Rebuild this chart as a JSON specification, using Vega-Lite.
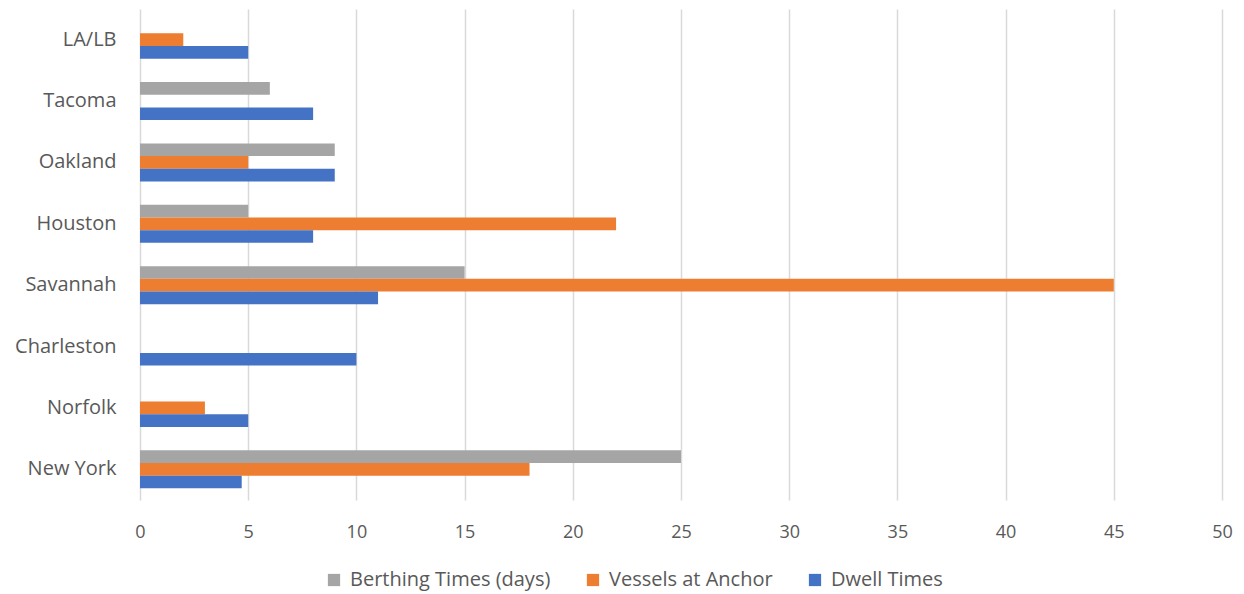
{
  "$schema": "https://vega.github.io/schema/vega-lite/v6.json",
  "width": 1082,
  "height": 491,
  "autosize": {"type": "none"},
  "padding": {"left": 140, "top": 9, "right": 22, "bottom": 94},
  "background": "white",
  "config": {"view": {"stroke": null}, "font": "Open Sans"},
  "data": {
    "values": [
      {"port": "LA/LB", "series": "Vessels at Anchor", "value": 2},
      {"port": "LA/LB", "series": "Dwell Times", "value": 5},
      {"port": "Tacoma", "series": "Berthing Times (days)", "value": 6},
      {"port": "Tacoma", "series": "Dwell Times", "value": 8},
      {"port": "Oakland", "series": "Berthing Times (days)", "value": 9},
      {"port": "Oakland", "series": "Vessels at Anchor", "value": 5},
      {"port": "Oakland", "series": "Dwell Times", "value": 9},
      {"port": "Houston", "series": "Berthing Times (days)", "value": 5},
      {"port": "Houston", "series": "Vessels at Anchor", "value": 22},
      {"port": "Houston", "series": "Dwell Times", "value": 8},
      {"port": "Savannah", "series": "Berthing Times (days)", "value": 15},
      {"port": "Savannah", "series": "Vessels at Anchor", "value": 45},
      {"port": "Savannah", "series": "Dwell Times", "value": 11},
      {"port": "Charleston", "series": "Dwell Times", "value": 10},
      {"port": "Norfolk", "series": "Vessels at Anchor", "value": 3},
      {"port": "Norfolk", "series": "Dwell Times", "value": 5},
      {"port": "New York", "series": "Berthing Times (days)", "value": 25},
      {"port": "New York", "series": "Vessels at Anchor", "value": 18},
      {"port": "New York", "series": "Dwell Times", "value": 4.7}
    ]
  },
  "mark": {"type": "bar"},
  "encoding": {
    "y": {
      "field": "port",
      "type": "nominal",
      "sort": ["LA/LB", "Tacoma", "Oakland", "Houston", "Savannah", "Charleston", "Norfolk", "New York"],
      "scale": {"paddingInner": 0.38, "paddingOuter": 0.19},
      "axis": {
        "title": null,
        "domain": false,
        "ticks": false,
        "labelPadding": 24,
        "labelFontSize": 20,
        "labelColor": "#595959",
        "labelFont": "Open Sans",
        "labelLimit": 0
      }
    },
    "yOffset": {
      "field": "series",
      "type": "nominal",
      "sort": ["Berthing Times (days)", "Vessels at Anchor", "Dwell Times"]
    },
    "x": {
      "field": "value",
      "type": "quantitative",
      "scale": {"domain": [0, 50], "nice": false},
      "axis": {
        "title": null,
        "values": [0, 5, 10, 15, 20, 25, 30, 35, 40, 45, 50],
        "domain": false,
        "ticks": false,
        "grid": true,
        "gridColor": "#d9d9d9",
        "gridWidth": 1.5,
        "labelPadding": 23,
        "labelFontSize": 18,
        "labelFlush": false,
        "labelColor": "#595959",
        "labelFont": "Open Sans"
      }
    },
    "color": {
      "field": "series",
      "type": "nominal",
      "scale": {
        "domain": ["Berthing Times (days)", "Vessels at Anchor", "Dwell Times"],
        "range": ["#A5A5A5", "#ED7D31", "#4472C4"]
      },
      "legend": {
        "title": null,
        "orient": "none",
        "direction": "horizontal",
        "legendX": 184,
        "legendY": 561,
        "symbolType": "square",
        "symbolSize": 150,
        "symbolStrokeWidth": 0,
        "labelFontSize": 20,
        "labelColor": "#595959",
        "labelFont": "Open Sans",
        "labelLimit": 0,
        "columnPadding": 32,
        "labelOffset": 6
      }
    }
  }
}
